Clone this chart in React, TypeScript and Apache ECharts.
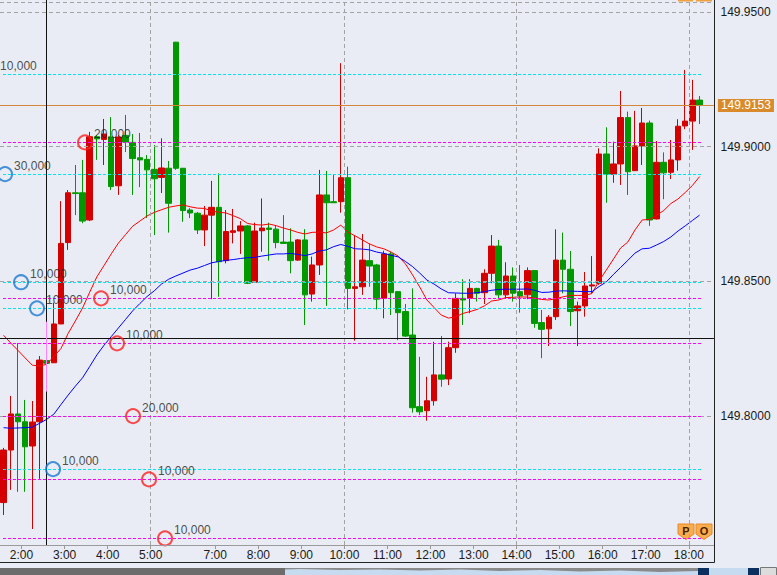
import React, { useEffect, useRef } from 'react';
import * as echarts from 'echarts';

// ---- data (10-minute bars) ----
const opens = [149.7679,149.7874,149.8008,149.7979,149.7889,149.7979,149.8206,149.8198,149.8342,149.8644,
149.8829,149.8829,149.8728,149.9037,149.9027,149.9036,149.8855,149.9042,149.9016,149.8959,
149.8953,149.8916,149.8886,149.8920,149.9388,149.8920,149.8765,149.8753,149.8691,149.8746,
149.8775,149.8577,149.8682,149.8687,149.8706,149.8497,149.8688,149.8698,149.8694,149.8646,
149.8646,149.8579,149.8654,149.8453,149.8561,149.8821,149.8796,149.8796,149.8885,149.8474,
149.8480,149.8577,149.8561,149.8437,149.8602,149.8462,149.8388,149.8301,149.8035,149.8020,
149.8057,149.8153,149.8138,149.8254,149.8437,149.8437,149.8474,149.8458,149.8530,149.8631,
149.8450,149.8520,149.8462,149.8450,149.8540,149.8347,149.8324,149.8369,149.8579,149.8545,
149.8391,149.8409,149.8483,149.8493,149.8973,149.8898,149.8936,149.9108,149.8911,149.9003,
149.9088,149.8732,149.8942,149.8905,149.8951,149.9077,149.9095,149.9173];

const closes = [149.7874,149.8008,149.7979,149.7886,149.7978,149.8208,149.8196,149.8342,149.8641,149.8829,
149.8826,149.8724,149.9037,149.9029,149.9047,149.8852,149.9036,149.9017,149.8956,149.8951,
149.8914,149.8881,149.8921,149.8790,149.8920,149.8763,149.8754,149.8691,149.8746,149.8775,
149.8573,149.8685,149.8688,149.8706,149.8493,149.8687,149.8698,149.8693,149.8644,149.8641,
149.8577,149.8654,149.8450,149.8561,149.8821,149.8792,149.8792,149.8885,149.8474,149.8480,
149.8579,149.8557,149.8434,149.8602,149.8458,149.8384,149.8297,149.8031,149.8016,149.8057,
149.8153,149.8137,149.8254,149.8437,149.8431,149.8474,149.8456,149.8530,149.8631,149.8450,
149.8520,149.8456,149.8446,149.8540,149.8344,149.8322,149.8367,149.8579,149.8545,149.8388,
149.8409,149.8483,149.8487,149.8973,149.8898,149.8936,149.9108,149.8907,149.9003,149.9088,
149.8728,149.8942,149.8903,149.8951,149.9076,149.9095,149.9173,149.9153];

const highs = [149.7882,149.8075,149.8271,149.8060,149.8056,149.8223,149.8208,149.8421,149.8798,149.8839,
149.8932,149.8951,149.9055,149.9043,149.9103,149.9110,149.9043,149.9118,149.9047,149.9051,
149.8969,149.9006,149.9031,149.8947,149.9389,149.8921,149.8772,149.8758,149.8780,149.8873,
149.8901,149.8765,149.8769,149.8724,149.8709,149.8718,149.8808,149.8718,149.8709,149.8746,
149.8697,149.8657,149.8694,149.8592,149.8914,149.8910,149.8895,149.9310,149.8926,149.8669,
149.8676,149.8641,149.8565,149.8614,149.8610,149.8464,149.8416,149.8474,149.8220,149.8146,
149.8276,149.8297,149.8276,149.8456,149.8508,149.8508,149.8476,149.8545,149.8672,149.8654,
149.8571,149.8552,149.8561,149.8552,149.8542,149.8394,149.8375,149.8693,149.8681,149.8613,
149.8425,149.8535,149.8594,149.8994,149.9072,149.9019,149.9207,149.9130,149.9133,149.9144,
149.9097,149.9021,149.8979,149.9025,149.9102,149.9285,149.9248,149.9188];

const lows = [149.7633,149.7726,149.7719,149.7719,149.7581,149.7767,149.8193,149.8197,149.8342,149.8617,
149.8746,149.8716,149.8724,149.8951,149.8932,149.8839,149.8821,149.8980,149.8821,149.8850,
149.8735,149.8672,149.8828,149.8681,149.8914,149.8721,149.8735,149.8676,149.8631,149.8434,
149.8443,149.8567,149.8641,149.8602,149.8490,149.8494,149.8610,149.8577,149.8623,149.8639,
149.8530,149.8576,149.8338,149.8425,149.8524,149.8409,149.8791,149.8755,149.8396,149.8280,
149.8450,149.8480,149.8396,149.8363,149.8375,149.8282,149.8294,149.8013,149.8004,149.7983,
149.8039,149.8109,149.8115,149.8235,149.8338,149.8382,149.8425,149.8416,149.8493,149.8434,
149.8437,149.8425,149.8384,149.8434,149.8328,149.8215,149.8260,149.8357,149.8456,149.8334,
149.8260,149.8369,149.8456,149.8487,149.8792,149.8866,149.8858,149.8821,149.8910,149.8932,
149.8706,149.8730,149.8805,149.8880,149.8911,149.9065,149.8988,149.9084];

const maShort = [149.8300,149.8271,149.8244,149.8216,149.8189,149.8186,149.8192,149.8221,149.8251,149.8307,
149.8353,149.8401,149.8460,149.8517,149.8559,149.8602,149.8642,149.8674,149.8705,149.8724,
149.8743,149.8756,149.8766,149.8775,149.8780,149.8784,149.8777,149.8772,149.8771,149.8761,
149.8757,149.8754,149.8744,149.8733,149.8715,149.8711,149.8709,149.8713,149.8707,149.8698,
149.8691,149.8682,149.8676,149.8682,149.8683,149.8680,149.8691,149.8709,149.8683,149.8669,
149.8654,149.8639,149.8628,149.8621,149.8609,149.8594,149.8565,149.8524,149.8479,149.8431,
149.8403,149.8375,149.8364,149.8368,149.8381,149.8388,149.8396,149.8409,149.8427,149.8431,
149.8440,149.8441,149.8442,149.8442,149.8438,149.8433,149.8431,149.8436,149.8443,149.8448,
149.8448,149.8448,149.8455,149.8502,149.8542,149.8583,149.8624,149.8646,149.8691,149.8728,
149.8730,149.8745,149.8763,149.8789,149.8806,149.8830,149.8856,149.8889];

const maLong = [149.7957,149.7955,149.7956,149.7957,149.7959,149.7973,149.7988,149.8007,149.8043,149.8078,
149.8111,149.8142,149.8184,149.8227,149.8263,149.8295,149.8327,149.8359,149.8391,149.8418,
149.8444,149.8465,149.8490,149.8508,149.8520,149.8531,149.8542,149.8549,149.8559,149.8569,
149.8574,149.8578,149.8581,149.8585,149.8588,149.8589,149.8594,149.8598,149.8602,149.8602,
149.8604,149.8600,149.8596,149.8602,149.8613,149.8617,149.8629,149.8637,149.8630,149.8621,
149.8620,149.8617,149.8609,149.8604,149.8597,149.8591,149.8574,149.8555,149.8531,149.8505,
149.8490,149.8472,149.8458,149.8457,149.8456,149.8456,149.8458,149.8462,149.8467,149.8470,
149.8471,149.8471,149.8471,149.8472,149.8467,149.8459,149.8460,149.8464,149.8465,149.8464,
149.8463,149.8462,149.8462,149.8481,149.8498,149.8526,149.8552,149.8578,149.8605,149.8621,
149.8623,149.8635,149.8648,149.8665,149.8687,149.8706,149.8726,149.8746];

// open orders
const buyPrices = [149.9269, 149.8898, 149.8497, 149.8400, 149.7803];
const buyQty = [10000, 30000, 10000, 10000, 10000];
const sellPrices = [149.9016, 149.8437, 149.8270, 149.8000, 149.7765, 149.7546];
const sellQty = [20000, 10000, 10000, 20000, 10000, 10000];
// marker slots (in bar units)
const buySlots = [-1.25, 0.7, 2.93, 5.16, 7.39];
const sellSlots = [11.85, 14.08, 16.31, 18.54, 20.77, 23.0];

const currentPrice = 149.9153;
const crossPrice = 149.8290;
const priceTicks = [149.80, 149.85, 149.90, 149.95];
const hourTickIdx = [3, 9, 15, 21, 30, 36, 42, 48, 54, 60, 66, 72, 78, 84, 90, 96];
const gridLineIdx = [21, 48, 72, 96];

// 10-minute category slots: 1:30-5:50, then 6:30-18:30 (two empty slots at the end)
function buildTimes(): string[] {
  const out: string[] = [];
  const push = (from: number, to: number) => {
    for (let m = from; m <= to; m += 10) {
      out.push(Math.floor(m / 60) + ':' + String(m % 60).padStart(2, '0'));
    }
  };
  push(90, 350);
  push(390, 1110);
  return out;
}
const times = buildTimes();

const Y_MIN = 149.752153;
const Y_MAX = 149.954454;
const N = times.length; // 100
const FONT = '"Liberation Sans", Arial, sans-serif';

const fmtQty = (q: number) => String(q).replace(/\B(?=(\d{3})+(?!\d))/g, ',');

export default function App() {
  const ref = useRef<HTMLDivElement>(null);

  useEffect(() => {
    if (!ref.current) return;
    const chart = echarts.init(ref.current, null, { renderer: 'svg', width: 777, height: 575 });

    const candleData = opens.map((o, i) => [o, closes[i], lows[i], highs[i]]);
    const lineX0 = 0.42, lineX1 = 97.84;

    const orderLines: any[] = [];
    buyPrices.forEach((p) =>
      orderLines.push([
        { coord: [lineX0, p], lineStyle: { color: '#00e6f0', type: [3, 2], width: 1 } },
        { coord: [lineX1, p] },
      ])
    );
    sellPrices.forEach((p) =>
      orderLines.push([
        { coord: [lineX0, p], lineStyle: { color: '#ff00ff', type: [3, 2], width: 1 } },
        { coord: [lineX1, p] },
      ])
    );

    const gridLines: any[] = [];
    priceTicks.forEach((p) =>
      gridLines.push([
        { coord: [0, p], lineStyle: { color: '#a3a3a3', type: [4, 3], width: 1 } },
        { coord: [99.1, p] },
      ])
    );
    gridLineIdx.forEach((x) =>
      gridLines.push([
        { coord: [x, Y_MIN], lineStyle: { color: '#a3a3a3', type: [4, 3], width: 1 } },
        { coord: [x, Y_MAX] },
      ])
    );

    const buyData = buyPrices.map((p, k) => [buySlots[k], p, buyQty[k]]);
    const sellData = sellPrices.map((p, k) => [sellSlots[k], p, sellQty[k]]);

    const orderLabel = {
      show: true,
      position: [17, 0],
      align: 'left',
      verticalAlign: 'middle',
      formatter: (prm: any) => fmtQty(prm.value[2]),
      color: '#222',
      fontSize: 12,
      fontFamily: FONT,
    };

    const badge = (x: number, letter: string) => ({
      type: 'group',
      z: 20,
      children: [
        {
          type: 'polygon',
          shape: { points: [[x, 524], [x + 16, 524], [x + 16, 534], [x + 8, 539.5], [x, 534]] },
          style: { fill: '#f9ad4c', stroke: '#e8872a', lineWidth: 1 },
        },
        {
          type: 'text',
          x: x + 8,
          y: 531,
          style: {
            text: letter,
            fill: '#4a2200',
            font: 'bold 11px ' + FONT,
            align: 'center',
            verticalAlign: 'middle',
          },
        },
      ],
    });

    const option: any = {
      animation: false,
      backgroundColor: '#e9ecf4',
      grid: { left: 0, top: 0, width: 717.5, height: 545, containLabel: false, outerBoundsMode: 'none' },
      xAxis: [
        { type: 'category', data: times, boundaryGap: true, show: false, gridIndex: 0 },
        {
          type: 'value',
          min: 0,
          max: N,
          position: 'bottom',
          gridIndex: 0,
          axisLine: { show: false },
          splitLine: { show: false },
          axisTick: { show: true, customValues: hourTickIdx, length: 4, lineStyle: { color: '#999' } },
          axisLabel: {
            customValues: hourTickIdx,
            formatter: (v: number) => times[Math.round(v)],
            color: '#1a1a1a',
            fontSize: 12,
            fontFamily: FONT,
            margin: 4,
          },
        },
      ],
      yAxis: {
        type: 'value',
        position: 'right',
        min: Y_MIN,
        max: Y_MAX,
        scale: true,
        axisLine: { show: false },
        axisTick: { show: false },
        splitLine: { show: false },
        axisLabel: {
          customValues: priceTicks,
          formatter: (v: number) => v.toFixed(4),
          color: '#1a1a1a',
          fontSize: 12,
          fontFamily: FONT,
          margin: 3,
        },
      },
      series: [
        {
          name: 'grid',
          type: 'line',
          xAxisIndex: 1,
          z: 1,
          data: [[-10, 149.9]],
          showSymbol: false,
          silent: true,
          lineStyle: { opacity: 0 },
          markLine: { silent: true, symbol: ['none', 'none'], label: { show: false }, data: [...gridLines, ...orderLines] },
        },
        {
          name: 'price',
          type: 'candlestick',
          xAxisIndex: 0,
          z: 2,
          barWidth: 6,
          data: candleData,
          itemStyle: {
            color: '#d40000',
            color0: '#009a00',
            borderColor: '#d40000',
            borderColor0: '#009a00',
            borderWidth: 1,
          },
        },
        {
          name: 'MA short',
          type: 'line',
          xAxisIndex: 1,
          z: 3,
          data: maShort.map((v, i) => [i + 0.5, v]),
          showSymbol: false,
          lineStyle: { color: '#ff0000', width: 1 },
        },
        {
          name: 'MA long',
          type: 'line',
          xAxisIndex: 1,
          z: 3,
          data: maLong.map((v, i) => [i + 0.5, v]),
          showSymbol: false,
          lineStyle: { color: '#0000ff', width: 1 },
        },
        {
          name: 'marks',
          type: 'line',
          xAxisIndex: 1,
          z: 4,
          data: [[-10, 149.9]],
          showSymbol: false,
          silent: true,
          lineStyle: { opacity: 0 },
          markLine: {
            silent: true,
            symbol: ['none', 'none'],
            label: { show: false },
            data: [
              [
                {
                  coord: [0, currentPrice],
                  lineStyle: { color: '#d4873a', type: 'solid', width: 1 },
                  label: {
                    show: true,
                    position: 'end',
                    distance: 4,
                    formatter: currentPrice.toFixed(4),
                    color: '#ffffff',
                    backgroundColor: '#d98a2a',
                    padding: [1, 3, 0, 3],
                    fontSize: 12,
                    fontFamily: FONT,
                  },
                },
                { coord: [99.5, currentPrice] },
              ],
              [
                { coord: [0, crossPrice], lineStyle: { color: '#111111', type: 'solid', width: 1 } },
                { coord: [99.5, crossPrice] },
              ],
              [
                { coord: [6.45, Y_MIN], lineStyle: { color: '#111111', type: 'solid', width: 1 } },
                { coord: [6.45, Y_MAX] },
              ],
              [
                { coord: [6.45, 149.835], lineStyle: { color: '#ff80ff', type: 'solid', width: 1 } },
                { coord: [6.45, 149.8091] },
              ],
            ],
          },
        },
        {
          name: 'buy orders',
          type: 'scatter',
          xAxisIndex: 1,
          z: 5,
          clip: false,
          symbol: 'circle',
          symbolSize: 14,
          data: buyData,
          itemStyle: { color: 'rgba(0,0,0,0)', borderColor: '#1a78d2', borderWidth: 2 },
          label: orderLabel,
        },
        {
          name: 'sell orders',
          type: 'scatter',
          xAxisIndex: 1,
          z: 5,
          clip: false,
          symbol: 'circle',
          symbolSize: 14,
          data: sellData,
          itemStyle: { color: 'rgba(0,0,0,0)', borderColor: '#ff1e1e', borderWidth: 2 },
          label: orderLabel,
        },
      ],
      graphic: [
        { type: 'line', z: 20, shape: { x1: 0, y1: 2.5, x2: 711, y2: 2.5 }, style: { stroke: '#a3a3a3', lineWidth: 1, lineDash: [4, 3] } },
        { type: 'rect', z: 20, shape: { x: 678, y: 0, width: 15, height: 1.5 }, style: { fill: '#f0a040' } },
        { type: 'rect', z: 20, shape: { x: 696, y: 0, width: 16, height: 1.5 }, style: { fill: '#f0a040' } },
        { type: 'line', z: 20, shape: { x1: 0, y1: 545.5, x2: 714, y2: 545.5 }, style: { stroke: '#9a9a9a', lineWidth: 1 } },
        { type: 'line', z: 20, shape: { x1: 714.5, y1: 0, x2: 714.5, y2: 562.5 }, style: { stroke: '#222', lineWidth: 1 } },
        { type: 'line', z: 20, shape: { x1: 0, y1: 562.5, x2: 714.5, y2: 562.5 }, style: { stroke: '#222', lineWidth: 1 } },
        { type: 'rect', z: 20, shape: { x: 0, y: 568, width: 285, height: 7 }, style: { fill: '#6c6c6c' } },
        { type: 'rect', z: 20, shape: { x: 285, y: 568, width: 475, height: 7 }, style: { fill: '#c6dbf0' } },
        {
          type: 'polygon',
          z: 21,
          shape: {
            points: [[285, 568], [698, 568], [698, 571], [660, 572], [620, 570.5], [580, 571.5], [540, 570], [500, 571],
              [460, 569.5], [420, 570.5], [380, 569.5], [340, 570], [300, 569], [285, 569.5]],
          },
          style: { fill: '#8a8a8a' },
        },
        { type: 'rect', z: 22, shape: { x: 698, y: 568, width: 11, height: 7 }, style: { fill: '#0b2f5e' } },
        { type: 'rect', z: 22, shape: { x: 748, y: 568, width: 11, height: 7 }, style: { fill: '#0b2f5e' } },
        { type: 'rect', z: 22, shape: { x: 760.5, y: 567.5, width: 16, height: 8 }, style: { fill: '#dcdcdc', stroke: '#777', lineWidth: 1 } },
        badge(678, 'P'),
        badge(696, 'O'),
      ],
    };

    chart.setOption(option);
    return () => chart.dispose();
  }, []);

  return (
    <div
      ref={ref}
      style={{ position: 'fixed', left: 0, top: 0, width: 777, height: 575, background: '#e9ecf4' }}
    />
  );
}
